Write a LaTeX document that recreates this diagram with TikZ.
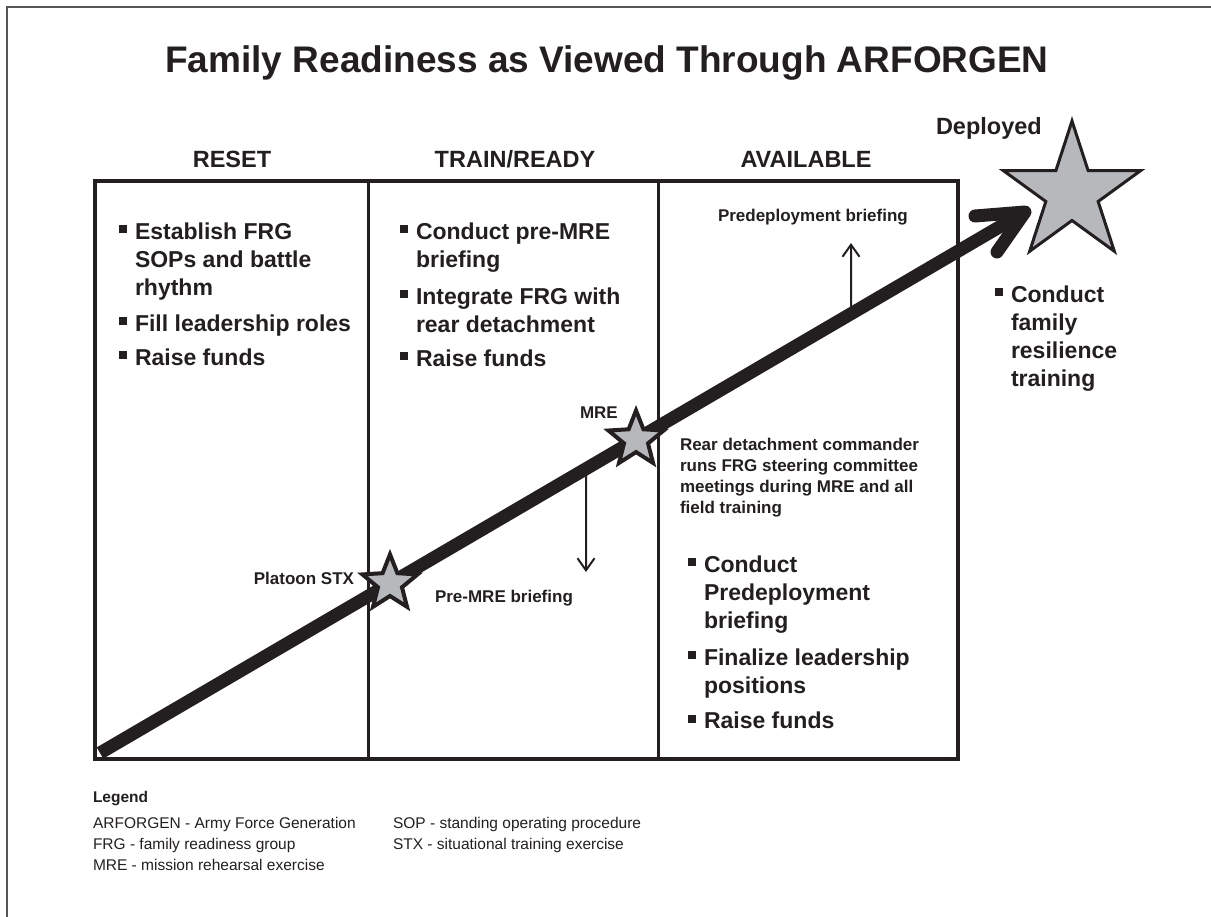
\documentclass[tikz,border=0pt]{standalone}
\usepackage{fontspec}
\setmainfont{Liberation Sans}
\usetikzlibrary{shapes.geometric,arrows.meta,calc}
\definecolor{ink}{HTML}{231F20}
\definecolor{stargray}{HTML}{B7B8BB}
\definecolor{framegray}{HTML}{555555}
\newcommand\bsq{\rule[6.5pt]{7.5pt}{8pt}}
\begin{document}
\begin{tikzpicture}[x=1pt,y=-1pt,
  every node/.style={inner sep=0pt, outer sep=0pt, text=ink},
  titletext/.style={font=\fontsize{37}{44}\selectfont\bfseries, anchor=base},
  header/.style={font=\fontsize{23.5}{28}\selectfont\bfseries, anchor=base},
  bullets/.style={font=\fontsize{23}{28}\selectfont\bfseries, anchor=base west},
  smalltext/.style={font=\fontsize{17}{21}\selectfont\bfseries, anchor=base west},
  legendtext/.style={font=\fontsize{15.5}{21}\selectfont, anchor=base west},
  starshape/.style={star, star points=5, draw=ink, fill=stargray, miter limit=10},
  framestyle/.style={draw=framegray, line width=1.4pt},
  boxstyle/.style={draw=ink, line width=3.5pt},
  divider/.style={draw=ink, line width=3pt},
  mainline/.style={draw=ink, line width=13pt},
  thinarrow/.style={draw=ink, line width=2pt, -{Straight Barb[length=12pt,width=17pt]}}
]
\useasboundingbox (0,0) rectangle (1211,917);
% outer frame (top and left edges)
\draw[framestyle] (1211,7) -- (7,7) -- (7,917);

% title
\node[titletext] (title) at (607,73) {Family Readiness as Viewed Through ARFORGEN};

% column headers
\node[header] (hreset) at (232,168) {RESET};
\node[header] (htrain) at (515,168) {TRAIN/READY};
\node[header] (havail) at (806,168) {AVAILABLE};

% box and dividers
\draw[boxstyle] (95,181) rectangle (958,759);
\draw[divider] (368,181) -- (368,759);
\draw[divider] (658,181) -- (658,759);

% main arrow
\coordinate (s) at (100,753);
\coordinate (t) at (1025,212);
\draw[mainline] (s) -- (t);
\draw[mainline, line cap=round, line join=round] ($(t)+(-50,4)$) -- (t) -- ($(t)+(-28,40)$);

% thin arrows
\coordinate (a1) at ($(s)!0.5254!(t)$);
\coordinate (a1e) at (586,572);
\draw[thinarrow] (a1) -- (a1e);
\coordinate (a2) at ($(s)!0.8119!(t)$);
\coordinate (a2e) at (851,243);
\draw[thinarrow] (a2) -- (a2e);

% stars
\node[starshape, star point ratio=2.3, minimum size=58pt, line width=4pt] (stx) at ($(s)!0.3135!(t)$) {};
\node[starshape, star point ratio=2.3, minimum size=58pt, line width=4pt] (mre) at ($(s)!0.5795!(t)$) {};
\node[starshape, star point ratio=2.618, minimum size=144pt, line width=3pt] (dep) at (1072,193) {};

% labels
\node[header, anchor=base west] (deployed) at (936,135) {Deployed};
\node[smalltext] (lmre) at (580,419) {MRE};
\node[smalltext, anchor=base east] (lstx) at (354,584) {Platoon STX};
\node[smalltext] (lpremre) at (435,602) {Pre-MRE briefing};
\node[smalltext] (lpredep) at (718,222) {Predeployment briefing};
\node[smalltext] (lrear) at (680,450) {\begin{tabular}[t]{@{}l@{}}Rear detachment commander\\runs FRG steering committee\\meetings during MRE and all\\field training\end{tabular}};

% bullet lists
\node[bullets] (reset) at (119,240) {\begin{tabular}[t]{@{}l@{\hspace{8.5pt}}l@{}}
\bsq & Establish FRG\\
 & SOPs and battle\\
 & rhythm\\[8pt]
\bsq & Fill leadership roles\\[6pt]
\bsq & Raise funds
\end{tabular}};
\node[bullets] (train) at (400,240) {\begin{tabular}[t]{@{}l@{\hspace{8.5pt}}l@{}}
\bsq & Conduct pre-MRE\\
 & briefing\\[9pt]
\bsq & Integrate FRG with\\
 & rear detachment\\[6pt]
\bsq & Raise funds
\end{tabular}};
\node[bullets] (avail) at (688,572) {\begin{tabular}[t]{@{}l@{\hspace{8.5pt}}l@{}}
\bsq & Conduct\\
 & Predeployment\\
 & briefing\\[9pt]
\bsq & Finalize leadership\\
 & positions\\[8pt]
\bsq & Raise funds
\end{tabular}};
\node[bullets] (deplist) at (995,303) {\begin{tabular}[t]{@{}l@{\hspace{8.5pt}}l@{}}
\bsq & Conduct\\
 & family\\
 & resilience\\
 & training
\end{tabular}};

% legend
\node[legendtext, font=\fontsize{15.5}{21}\selectfont\bfseries] (legend) at (93,802) {Legend};
\node[legendtext] (leg1) at (93,828) {\begin{tabular}[t]{@{}l@{}}ARFORGEN - Army Force Generation\\FRG - family readiness group\\MRE - mission rehearsal exercise\end{tabular}};
\node[legendtext] (leg2) at (393,828) {\begin{tabular}[t]{@{}l@{}}SOP - standing operating procedure\\STX - situational training exercise\end{tabular}};
\end{tikzpicture}
\end{document}
